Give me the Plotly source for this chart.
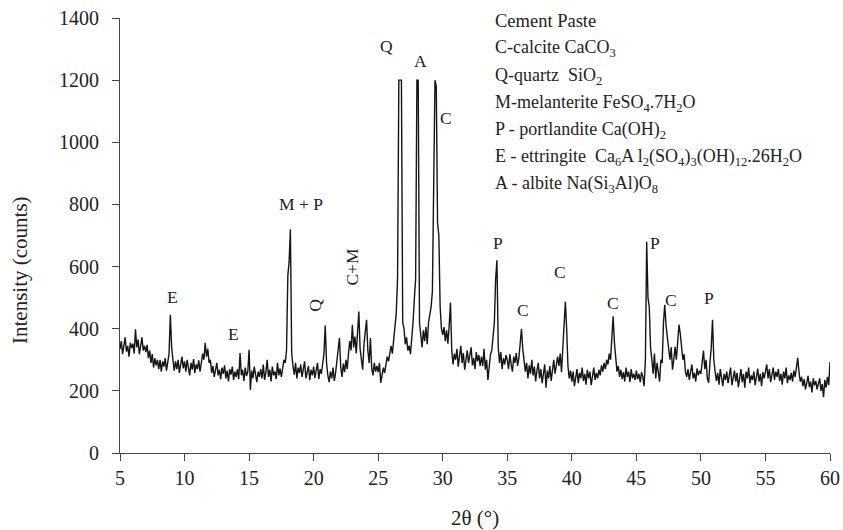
import numpy as np
import plotly.graph_objects as go

# Intensity (counts) sampled every 0.1 deg of 2-theta, starting at 5.0
intensity = [
    335, 360, 318, 350, 372, 326, 345, 310, 355, 338,   # 5
    352, 320, 398, 340, 365, 318, 350, 372, 330, 345,   # 6
    325, 348, 305, 330, 290, 318, 275, 305, 282, 300,   # 7
    270, 300, 262, 295, 278, 305, 265, 290, 320, 445,   # 8
    340, 300, 265, 295, 270, 300, 258, 285, 310, 272,   # 9
    295, 262, 300, 275, 250, 290, 268, 302, 258, 285,   # 10
    270, 298, 262, 290, 320, 300, 355, 310, 335, 290,   # 11
    300, 258, 280, 245, 272, 290, 250, 268, 238, 275,   # 12
    255, 282, 240, 265, 230, 270, 252, 278, 235, 262,   # 13
    245, 270, 238, 322, 250, 268, 232, 275, 248, 262,   # 14
    332, 203, 265, 240, 278, 250, 228, 262, 245, 270,   # 15
    240, 285, 235, 260, 300, 245, 268, 230, 278, 250,   # 16
    262, 238, 290, 250, 272, 245, 280, 300, 290, 330,   # 17
    570, 615, 720, 320, 280, 252, 290, 240, 275, 258,   # 18
    285, 245, 270, 295, 240, 262, 280, 235, 268, 250,   # 19
    278, 242, 265, 290, 238, 270, 255, 300, 320, 410,   # 20
    290, 250, 228, 262, 240, 275, 232, 258, 300, 335,   # 21
    370, 275, 245, 288, 260, 300, 270, 320, 360, 330,   # 22
    413, 340, 375, 320, 395, 455, 335, 300, 268, 350,   # 23
    400, 429, 330, 290, 370, 272, 250, 290, 262, 280,   # 24
    260, 290, 226, 250, 275, 258, 282, 310, 295, 330,   # 25
    345, 320, 370, 400, 450, 560, 1200, 1200, 1200, 420,  # 26
    400, 350, 372, 330, 345, 318, 365, 420, 495, 560,   # 27
    1200, 1200, 420, 370, 340, 395, 360, 405, 350, 420, # 28
    440, 470, 520, 800, 1200, 1180, 740, 700, 470, 400, # 29
    380, 405, 360, 395, 352, 410, 484, 330, 285, 320,   # 30
    300, 335, 278, 312, 345, 290, 322, 268, 305, 330,   # 31
    290, 318, 340, 282, 305, 270, 325, 295, 315, 280,   # 32
    310, 280, 335, 268, 300, 235, 290, 318, 330, 380,   # 33
    420, 560, 620, 340, 290, 325, 270, 305, 285, 315,   # 34
    300, 270, 318, 285, 262, 310, 290, 322, 280, 305,   # 35
    345, 400, 335, 300, 262, 290, 240, 282, 255, 300,   # 36
    250, 278, 230, 265, 290, 240, 270, 225, 262, 285,   # 37
    210, 265, 240, 280, 232, 270, 300, 255, 285, 310,   # 38
    280, 320, 260, 340, 375, 487, 400, 280, 240, 265,   # 39
    230, 262, 215, 250, 270, 225, 258, 240, 275, 232,   # 40
    255, 220, 268, 240, 262, 218, 250, 275, 235, 258,   # 41
    240, 268, 250, 282, 262, 290, 270, 300, 285, 320,   # 42
    300, 365, 440, 355, 300, 262, 280, 245, 268, 238,   # 43
    260, 230, 275, 245, 262, 228, 270, 240, 255, 235,   # 44
    265, 238, 255, 228, 260, 245, 215, 300, 680, 500,   # 45
    470, 340, 300, 255, 320, 240, 290, 260, 230, 300,   # 46
    290, 419, 477, 410, 370, 345, 300, 340, 268, 300,   # 47
    342, 300, 365, 413, 385, 332, 300, 318, 262, 245,   # 48
    270, 235, 262, 285, 240, 258, 230, 272, 250, 265,   # 49
    255, 290, 330, 270, 300, 240, 226, 290, 340, 429,   # 50
    300, 262, 232, 258, 220, 270, 240, 215, 255, 235,   # 51
    262, 225, 250, 275, 218, 245, 265, 230, 258, 212,   # 52
    248, 270, 228, 255, 210, 262, 240, 275, 225, 250,   # 53
    235, 262, 218, 248, 272, 230, 255, 215, 260, 240,   # 54
    265, 285, 240, 270, 228, 258, 275, 235, 262, 245,   # 55
    270, 232, 255, 220, 262, 240, 275, 225, 250, 235,   # 56
    258, 230, 265, 245, 272, 306, 260, 230, 245, 215,   # 57
    238, 205, 225, 248, 212, 230, 195, 240, 218, 232,   # 58
    205, 228, 240, 200, 222, 180, 235, 210, 245, 218,   # 59
    293,                                                # 60
]
two_theta = np.round(5.0 + 0.1 * np.arange(len(intensity)), 2)

# peak labels
peak_text = ["E", "E", "M + P", "Q", "C+M", "Q", "A", "C", "P", "C", "C", "C", "P", "C", "P"]
peak_x = [9.03, 13.83, 19.0, 20.1, 22.97, 25.68, 28.24, 30.25, 34.28, 36.2, 39.08, 43.2, 46.44, 47.7, 50.65]
peak_y = [503, 384, 800, 477, 600, 1310, 1261, 1077, 677, 461, 584, 484, 677, 494, 500]
peak_rot = [0, 0, 0, -90, -90, 0, 0, 0, 0, 0, 0, 0, 0, 0, 0]

legend_title = "Cement Paste"
legend_lines = [
    "C-calcite CaCO<sub>3</sub>",
    "Q-quartz  SiO<sub>2</sub>",
    "M-melanterite FeSO<sub>4</sub>.7H<sub>2</sub>O",
    "P - portlandite Ca(OH)<sub>2</sub>",
    "E - ettringite  Ca<sub>6</sub>A l<sub>2</sub>(SO<sub>4</sub>)<sub>3</sub>(OH)<sub>12</sub>.26H<sub>2</sub>O",
    "A - albite Na(Si<sub>3</sub>Al)O<sub>8</sub>",
]

x_ticks = [5, 10, 15, 20, 25, 30, 35, 40, 45, 50, 55, 60]
y_ticks = [0, 200, 400, 600, 800, 1000, 1200, 1400]

FONT = "Liberation Serif, Times New Roman, serif"
TXT = "#222"

W, H = 843, 530
# plot area in page pixels
PL, PR, PT, PB = 120, 830, 18, 453


def px_to_paper(px, py):
    return (px - PL) / (PR - PL), (PB - py) / (PB - PT)


fig = go.Figure()
fig.add_trace(go.Scatter(
    x=two_theta, y=intensity, mode="lines",
    line=dict(color="#151515", width=1.4),
    showlegend=False, hoverinfo="x+y",
))

for t, x, y, r in zip(peak_text, peak_x, peak_y, peak_rot):
    fig.add_annotation(x=x, y=y, text=t, showarrow=False, textangle=r,
                       font=dict(family=FONT, size=17.5, color=TXT))

lx, ly = px_to_paper(493, 21)
fig.add_annotation(xref="paper", yref="paper", x=lx, y=ly, text=legend_title,
                   showarrow=False, xanchor="left", yanchor="middle",
                   font=dict(family=FONT, size=18.5, color=TXT))
for i, line in enumerate(legend_lines):
    lx, ly = px_to_paper(493, 49 + i * 27.2)
    fig.add_annotation(xref="paper", yref="paper", x=lx, y=ly, text=line,
                       showarrow=False, xanchor="left", yanchor="middle",
                       font=dict(family=FONT, size=18, color=TXT))

# axis titles
tx, ty = px_to_paper(20, 270)
fig.add_annotation(xref="paper", yref="paper", x=tx, y=ty, text="Intensity (counts)",
                   textangle=-90, showarrow=False, xanchor="center", yanchor="middle",
                   font=dict(family=FONT, size=21, color=TXT))
tx, ty = px_to_paper(475, 518)
fig.add_annotation(xref="paper", yref="paper", x=tx, y=ty, text="2θ (°)",
                   showarrow=False, xanchor="center", yanchor="middle",
                   font=dict(family=FONT, size=21, color=TXT))

fig.update_layout(
    width=W, height=H,
    margin=dict(l=PL, r=W - PR, t=PT, b=H - PB, autoexpand=False),
    paper_bgcolor="white", plot_bgcolor="white",
    font=dict(family=FONT, size=20, color=TXT),
)
fig.update_xaxes(range=[5, 60], tickvals=x_ticks, ticks="outside", ticklen=7, tickwidth=1,
                 tickcolor="#444", showline=True, linecolor="#444", linewidth=1,
                 showgrid=False, zeroline=False, tickfont=dict(size=20),
                 ticklabeloverflow="allow", automargin=False)
fig.update_yaxes(range=[0, 1400], tickvals=y_ticks, ticks="outside", ticklen=7, tickwidth=1,
                 tickcolor="#444", showline=True, linecolor="#444", linewidth=1,
                 showgrid=False, zeroline=False, tickfont=dict(size=20), ticklabelstandoff=9,
                 ticklabeloverflow="allow", automargin=False)

fig.write_html(
    "out.html",
    config={"displayModeBar": False},
    post_script="document.body.style.margin='0';document.body.style.overflow='hidden';",
)
